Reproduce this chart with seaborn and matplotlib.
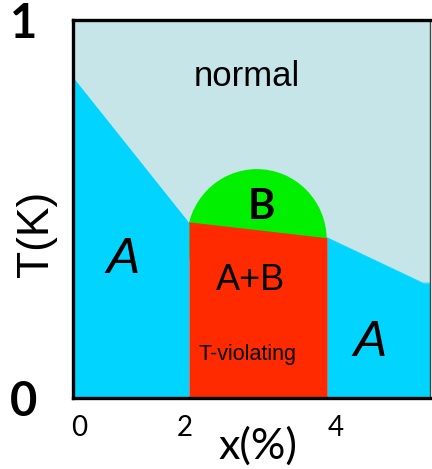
import numpy as np
import matplotlib
matplotlib.use("Agg")
import matplotlib.pyplot as plt
from matplotlib import font_manager
from matplotlib.patches import Ellipse
import seaborn as sns

# ---- phase diagram data (x in %, T in K) ----
x_min, x_max = 0.0, 6.0
t_min, t_max = 0.0, 1.0

# boundary between the left "A" phase and the normal state
left_boundary_x = [0.0, 1.93]
left_boundary_t = [0.847, 0.466]

# mixed A+B (T-violating) phase: vertical walls and slanted top
mixed_x = [1.95, 4.27]
mixed_top_t = [0.466, 0.424]

# boundary between the right "A" phase and the normal state
right_boundary_x = [4.27, 5.88, 6.0]
right_boundary_t = [0.424, 0.304, 0.304]

# dome of the pure B phase
dome_center = (3.09, 0.418)
dome_width = 2.35
dome_height = 0.375

x_tick_pos = [0.10, 1.88, 4.42]
x_tick_labels = ["0", "2", "4"]
y_tick_pos = [0.0, 1.0]
y_tick_labels = ["0", "1"]

colors = {
    "normal": "#C6E5E9",
    "A": "#00D4FF",
    "B": "#00F000",
    "AB": "#FF2A00",
}

sns.set_theme(style="white")

available = {f.name for f in font_manager.fontManager.ttflist}
narrow = "Liberation Sans Narrow" if "Liberation Sans Narrow" in available else "Liberation Sans"
plt.rcParams["font.family"] = [narrow, "DejaVu Sans"]
plt.rcParams["text.color"] = "black"
plt.rcParams["xtick.color"] = "black"
plt.rcParams["ytick.color"] = "black"
hand = ["Lato", "DejaVu Sans"]

fig = plt.figure(figsize=(4.32, 4.69), dpi=100)
ax = fig.add_axes([73 / 432, (469 - 398) / 469, (430 - 73) / 432, (398 - 20) / 469])
ax.set_xlim(x_min, x_max)
ax.set_ylim(t_min, t_max)
ax.set_facecolor(colors["normal"])

# green B dome (lower half is covered by the other phases)
ax.add_patch(Ellipse(dome_center, dome_width, dome_height, color=colors["B"], lw=0, zorder=1))

# left A region
ax.fill_between(left_boundary_x + [mixed_x[0]], [t_min] * 3,
                left_boundary_t + [left_boundary_t[-1]],
                color=colors["A"], lw=0, zorder=2)
# right A region
ax.fill_between(right_boundary_x, [t_min] * 3, right_boundary_t,
                color=colors["A"], lw=0, zorder=2)
# mixed A+B region
ax.fill_between(mixed_x, [t_min] * 2, mixed_top_t, color=colors["AB"], lw=0, zorder=3)

# phase boundaries drawn in the region colours to close antialiasing seams
sns.lineplot(x=left_boundary_x, y=left_boundary_t, ax=ax, color=colors["A"], lw=0.6, zorder=2)
sns.lineplot(x=right_boundary_x, y=right_boundary_t, ax=ax, color=colors["A"], lw=0.6, zorder=2)

# region labels
ax.text(2.93, 0.85, "normal", ha="center", va="center", fontsize=25, color="black")
ax.text(0.85, 0.365, "A", ha="center", va="center", fontsize=36, style="italic", color="black")
ax.text(5.0, 0.145, "A", ha="center", va="center", fontsize=36, style="italic", color="black")
ax.text(3.17, 0.505, "B", ha="center", va="center", fontsize=30, family=hand,
        fontweight="bold", color="black")
ax.text(2.99, 0.31, "A+B", ha="center", va="center", fontsize=26, color="black", zorder=4)
ax.text(2.94, 0.115, "T-violating", ha="center", va="center", fontsize=15.5, color="black", zorder=4)

# axes ticks and labels
ax.set_xticks(x_tick_pos)
ax.set_xticklabels(x_tick_labels, family=hand, fontsize=20)
ax.set_yticks(y_tick_pos)
ax.set_yticklabels(y_tick_labels, family=hand, fontsize=34, fontweight="bold")
ax.tick_params(axis="x", length=0, pad=12)
ax.tick_params(axis="y", length=0, pad=26)
fig.text(258 / 432, 1 - 446 / 469, "x(%)", family=hand, fontsize=31,
         ha="center", va="center")
fig.text(36 / 432, 1 - 234 / 469, "T(K)", fontsize=32, rotation=90,
         ha="center", va="center")

for side in ["left", "bottom", "top"]:
    ax.spines[side].set_color("black")
    ax.spines[side].set_linewidth(2.4)
ax.spines["right"].set_color("#444444")
ax.spines["right"].set_linewidth(1.0)
for sp in ax.spines.values():
    sp.set_zorder(10)

fig.savefig("out.png", dpi=100)
